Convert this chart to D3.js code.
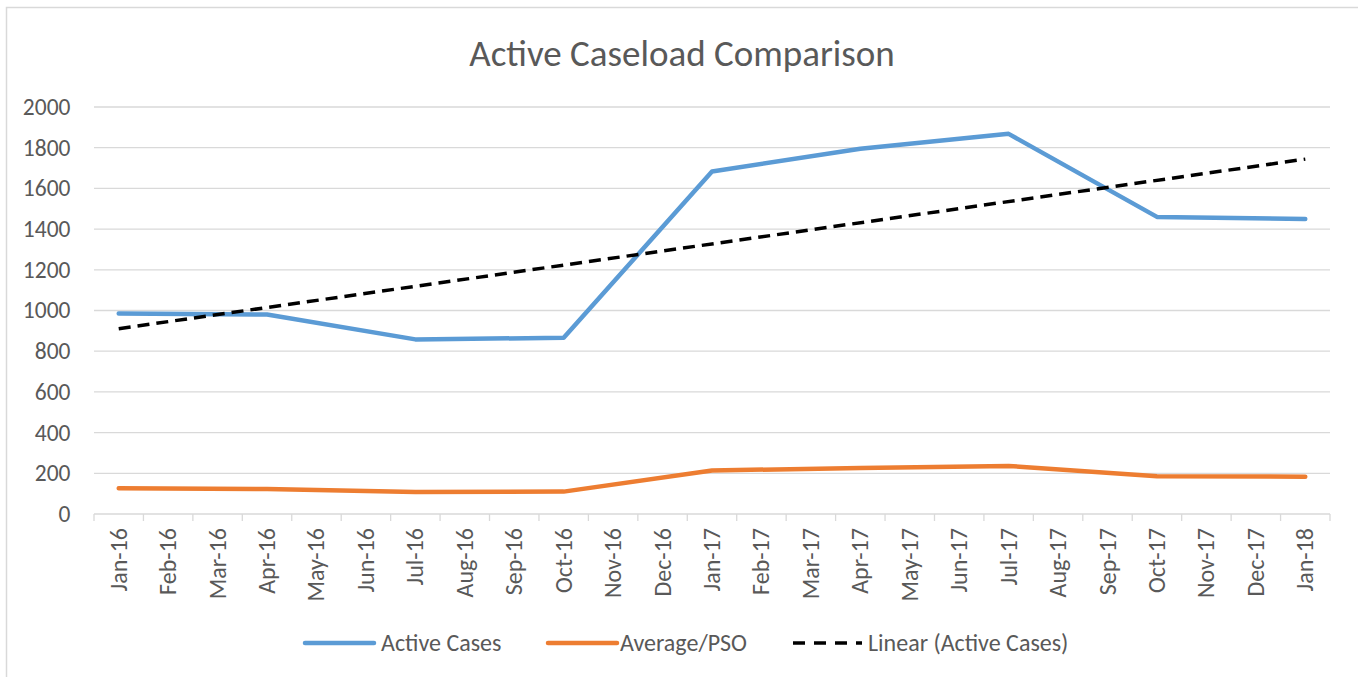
<!DOCTYPE html>
<html>
<head>
<meta charset="utf-8">
<script src="https://cdn.jsdelivr.net/npm/d3@7"></script>
<style>
  body { margin: 0; background: #fff; }
  text { font-family: Carlito, Calibri, "Open Sans", sans-serif; fill: #595959; }
</style>
</head>
<body>
<div id="chart"></div>
<script>
// Month categories on the x axis
var months = ["Jan-16","Feb-16","Mar-16","Apr-16","May-16","Jun-16","Jul-16","Aug-16","Sep-16","Oct-16","Nov-16","Dec-16",
              "Jan-17","Feb-17","Mar-17","Apr-17","May-17","Jun-17","Jul-17","Aug-17","Sep-17","Oct-17","Nov-17","Dec-17","Jan-18"];
// Months that carry a data point
var pointMonths = ["Jan-16","Apr-16","Jul-16","Oct-16","Jan-17","Apr-17","Jul-17","Oct-17","Jan-18"];
var activeCases = [985, 980, 858, 866, 1683, 1795, 1868, 1460, 1450];
var averagePSO = [126, 123, 108, 110, 214, 226, 236, 186, 183];
var yTicks = [0, 200, 400, 600, 800, 1000, 1200, 1400, 1600, 1800, 2000];

const W = 1358, H = 677;
const plot = {left: 94, right: 1330, top: 107, bottom: 514};

var svg = d3.select("#chart").append("svg")
  .attr("width", W)
  .attr("height", H);

// outer chart border (runs off the right/bottom edge in the reference)
svg.append("rect")
  .attr("x", 6.5).attr("y", 7.5)
  .attr("width", W + 20).attr("height", H + 20)
  .attr("fill", "#fff")
  .attr("stroke", "#D9D9D9")
  .attr("stroke-width", 1.5);

var x = d3.scaleBand().domain(months).range([plot.left, plot.right]);
var xc = function(m) { return x(m) + x.bandwidth() / 2; };
var y = d3.scaleLinear().domain([0, 2000]).range([plot.bottom, plot.top]);

// title
svg.append("text")
  .attr("x", 682)
  .attr("y", 66)
  .attr("text-anchor", "middle")
  .style("font-size", "37px")
  .text("Active Caseload Comparison");

// gridlines
svg.append("g").selectAll("line")
  .data(yTicks.filter(d => d > 0))
  .join("line")
  .attr("x1", plot.left).attr("x2", plot.right)
  .attr("y1", d => y(d)).attr("y2", d => y(d))
  .attr("stroke", "#D9D9D9")
  .attr("stroke-width", 1.3);

// y labels
svg.append("g").selectAll("text")
  .data(yTicks)
  .join("text")
  .attr("x", 70.5)
  .attr("y", d => y(d))
  .attr("dy", "0.34em")
  .attr("text-anchor", "end")
  .style("font-size", "23.5px")
  .text(d => d);

// x axis line + ticks
var xAxis = svg.append("g");
xAxis.append("line")
  .attr("x1", plot.left).attr("x2", plot.right)
  .attr("y1", plot.bottom).attr("y2", plot.bottom)
  .attr("stroke", "#D9D9D9").attr("stroke-width", 1.3);
xAxis.selectAll(".tick")
  .data(months.concat(["end"]))
  .join("line")
  .attr("class", "tick")
  .attr("x1", (d, i) => i < months.length ? x(d) : plot.right)
  .attr("x2", (d, i) => i < months.length ? x(d) : plot.right)
  .attr("y1", plot.bottom).attr("y2", plot.bottom + 7)
  .attr("stroke", "#D9D9D9").attr("stroke-width", 1.3);
xAxis.selectAll("text")
  .data(months)
  .join("text")
  .attr("transform", d => "translate(" + (xc(d) + 8) + "," + (plot.bottom + 14) + ") rotate(-90)")
  .attr("text-anchor", "end")
  .style("font-size", "24px")
  .text(d => d);

// series
var line = d3.line()
  .x((d, i) => xc(pointMonths[i]))
  .y(d => y(d));

svg.append("path")
  .datum(averagePSO)
  .attr("d", line)
  .attr("fill", "none")
  .attr("stroke", "#ED7D31")
  .attr("stroke-width", 4.5)
  .attr("stroke-linecap", "round")
  .attr("stroke-linejoin", "round");

svg.append("path")
  .datum(activeCases)
  .attr("d", line)
  .attr("fill", "none")
  .attr("stroke", "#5B9BD5")
  .attr("stroke-width", 4.5)
  .attr("stroke-linecap", "round")
  .attr("stroke-linejoin", "round");

// linear trendline (least squares over the point index, like Excel)
var n = activeCases.length;
var idx = d3.range(n);
var mx = d3.mean(idx), my = d3.mean(activeCases);
var slope = d3.sum(idx, i => (i - mx) * (activeCases[i] - my)) / d3.sum(idx, i => (i - mx) * (i - mx));
var intercept = my - slope * mx;
var trend = [intercept, intercept + slope * (n - 1)];

svg.append("line")
  .attr("x1", xc(pointMonths[0])).attr("y1", y(trend[0]))
  .attr("x2", xc(pointMonths[n - 1])).attr("y2", y(trend[1]))
  .attr("stroke", "#000")
  .attr("stroke-width", 3.5)
  .attr("stroke-dasharray", "12,7");

// legend
var legend = [
  {name: "Active Cases", color: "#5B9BD5", dash: null, x: 305, tx: 381},
  {name: "Average/PSO", color: "#ED7D31", dash: null, x: 548, tx: 620},
  {name: "Linear (Active Cases)", color: "#000", dash: "12,9", x: 793, tx: 868}
];
var lg = svg.append("g").selectAll("g").data(legend).join("g");
lg.append("line")
  .attr("x1", d => d.x).attr("x2", d => d.x + 69)
  .attr("y1", 643).attr("y2", 643)
  .attr("stroke", d => d.color)
  .attr("stroke-width", d => d.dash ? 3.5 : 4.5)
  .attr("stroke-linecap", d => d.dash ? "butt" : "round")
  .attr("stroke-dasharray", d => d.dash);
lg.append("text")
  .attr("x", d => d.tx)
  .attr("y", 643)
  .attr("dy", "0.34em")
  .style("font-size", "24px")
  .text(d => d.name);
</script>
</body>
</html>
